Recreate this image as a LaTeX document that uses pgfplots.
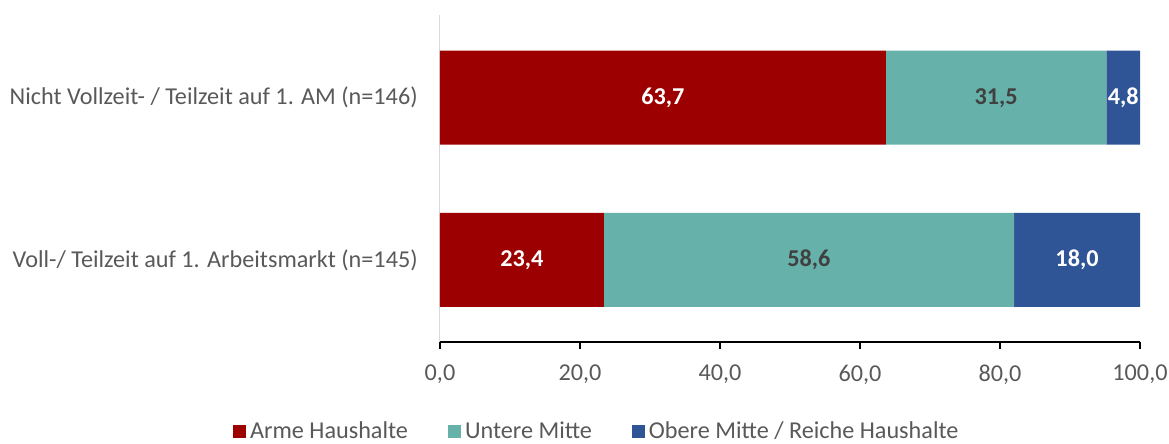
\documentclass[border=0pt]{standalone}
\usepackage{pgfplots}
\pgfplotsset{compat=1.18}
\usepackage{pgfplotstable}
\usepackage{fontspec}
\setmainfont{Carlito}
\definecolor{cred}{HTML}{9C0000}
\definecolor{cteal}{HTML}{66B2AA}
\definecolor{cblue}{HTML}{2F5597}
\definecolor{ctext}{HTML}{595959}
\definecolor{cdark}{HTML}{404040}
\pgfplotstableread{
y v
0 23.4
1 63.7
}\arme
\pgfplotstableread{
y v
0 58.6
1 31.5
}\untere
\pgfplotstableread{
y v
0 18.0
1 4.8
}\obere
\begin{document}
\fontsize{24.3}{28}\selectfont
\begin{tikzpicture}
\useasboundingbox (-440bp,-102bp) rectangle (729bp,342bp);
\begin{axis}[
  at={(0,0)}, anchor=south west,
  scale only axis, width=700bp, height=327bp,
  xbar stacked, bar width=94bp,
  xmin=0, xmax=100, ymin=-0.506, ymax=1.51,
  xtick={0,20,...,100},
  ytick={0,1},
  yticklabels={Voll-/ Teilzeit auf 1. Arbeitsmarkt (n=145), Nicht Vollzeit- / Teilzeit auf 1. AM (n=146)},
  axis x line*=bottom, axis y line*=left,
  axis line style={-},
  x axis line style={draw=black, line width=1.3bp},
  y axis line style={draw=black!15, line width=1bp},
  xtick style={draw=black, line width=1.3bp},
  ytick style={draw=none},
  xtick align=outside, major tick length=7bp,
  ticklabel style={font=\fontsize{24.3}{28}\selectfont, text=ctext},
  xticklabel style={yshift=-8bp},
  yticklabel style={xshift=-14bp},
  /pgf/number format/.cd, use comma, fixed, fixed zerofill, precision=1, assume math mode=true,
  /pgfplots/.cd,
  point meta=explicit,
  nodes near coords={\pgfmathprintnumber[use comma, fixed, fixed zerofill, precision=1]{\pgfplotspointmeta}},
  every node near coord/.append style={anchor=center, font=\bfseries\fontsize{24.3}{28}\selectfont},
  legend style={at={(0.224,-0.275)}, anchor=center, draw=none, legend columns=3,
    font=\fontsize{24.3}{28}\selectfont, text=ctext,
    /tikz/every odd column/.append style={column sep=2bp},
    /tikz/every even column/.append style={column sep=38bp}},
  legend image code/.code={\fill[#1] (0bp,-6.5bp) rectangle (13bp,6.5bp);},
  legend cell align=left,
]
\addplot[fill=cred, draw=none, nodes near coords style={text=white}] table[x=v, y=y, meta=v] {\arme};
\addplot[fill=cteal, draw=none, nodes near coords style={text=cdark}] table[x=v, y=y, meta=v] {\untere};
\addplot[fill=cblue, draw=none, nodes near coords style={text=white}] table[x=v, y=y, meta=v] {\obere};
\legend{Arme Haushalte, Untere Mitte, Obere Mitte / Reiche Haushalte}
\end{axis}
\end{tikzpicture}
\end{document}
